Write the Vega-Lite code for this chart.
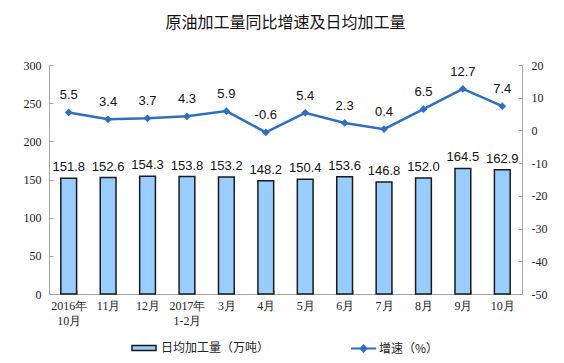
{
  "$schema": "https://vega.github.io/schema/vega-lite/v6.json",
  "width": 473,
  "height": 229,
  "autosize": {"type": "none"},
  "padding": {"left": 49, "top": 65, "right": 42, "bottom": 69},
  "background": "white",
  "title": {"text": "原油加工量同比增速及日均加工量", "font": "Noto Sans CJK SC", "fontSize": 16, "fontWeight": "normal", "color": "#111", "offset": 28},
  "config": {
    "locale": {"number": {"decimal": ".", "thousands": ",", "grouping": [3], "currency": ["$", ""], "minus": "-"}},
    "view": {"stroke": null},
    "axis": {"grid": false, "domainColor": "#a6a6a6", "tickColor": "#a6a6a6", "labelFont": "Liberation Serif", "labelFontSize": 12, "labelColor": "#222", "title": null}
  },
  "data": {"values": [
    {"cat": "2016年|10月", "amount": 151.8, "growth": 5.5},
    {"cat": "11月", "amount": 152.6, "growth": 3.4},
    {"cat": "12月", "amount": 154.3, "growth": 3.7},
    {"cat": "2017年|1-2月", "amount": 153.8, "growth": 4.3},
    {"cat": "3月", "amount": 153.2, "growth": 5.9},
    {"cat": "4月", "amount": 148.2, "growth": -0.6},
    {"cat": "5月", "amount": 150.4, "growth": 5.4},
    {"cat": "6月", "amount": 153.6, "growth": 2.3},
    {"cat": "7月", "amount": 146.8, "growth": 0.4},
    {"cat": "8月", "amount": 152.0, "growth": 6.5},
    {"cat": "9月", "amount": 164.5, "growth": 12.7},
    {"cat": "10月", "amount": 162.9, "growth": 7.4}
  ]},
  "encoding": {
    "x": {"field": "cat", "type": "nominal", "sort": null,
      "scale": {"paddingInner": 0.6, "paddingOuter": 0.3},
      "axis": {"labelAngle": 0, "labelExpr": "split(datum.label, '|')", "tickBand": "extent", "tickSize": -4, "labelPadding": 10, "labelLineHeight": 15, "labelBaseline": "top"}}
  },
  "layer": [
    {
      "encoding": {
        "y": {"field": "amount", "type": "quantitative", "scale": {"domain": [0, 300], "nice": false},
          "axis": {"orient": "left", "values": [0, 50, 100, 150, 200, 250, 300], "tickSize": -4, "labelPadding": 12}}
      },
      "layer": [
        {"mark": {"type": "bar", "stroke": "#1a1a1a", "strokeWidth": 1.5},
         "encoding": {"fill": {"datum": "日均加工量（万吨）", "type": "nominal", "scale": {"range": ["#99CCFF"]},
           "legend": {"orient": "none", "legendX": 82, "legendY": 270, "title": null, "padding": 0,
             "symbolType": "M-1,-0.2 h2 v0.4 h-2 Z", "symbolSize": 576, "symbolStrokeColor": "#1a1a1a", "symbolStrokeWidth": 1.5,
             "labelFont": "Noto Sans CJK SC", "labelFontSize": 12, "labelColor": "#222", "labelOffset": 4}}}},
        {"mark": {"type": "text", "baseline": "bottom", "dy": -4, "font": "Liberation Sans", "fontSize": 13, "color": "#111"},
         "encoding": {"text": {"field": "amount", "type": "quantitative", "format": ".1f"}}}
      ]
    },
    {
      "encoding": {
        "y": {"field": "growth", "type": "quantitative", "scale": {"domain": [-50, 20], "nice": false},
          "axis": {"orient": "right", "values": [-50, -40, -30, -20, -10, 0, 10, 20], "tickSize": -4, "labelPadding": 13}}
      },
      "layer": [
        {"mark": {"type": "line", "strokeWidth": 2.5},
         "encoding": {"stroke": {"datum": "增速（%）", "type": "nominal", "scale": {"range": ["#2E6FC2"]},
           "legend": {"orient": "none", "legendX": 301, "legendY": 270, "title": null, "padding": 0,
             "symbolType": "M-1,0 L1,0 M0,-0.24 L0.24,0 L0,0.24 L-0.24,0 Z", "symbolSize": 625, "symbolStrokeWidth": 2,
             "labelFont": "Noto Sans CJK SC", "labelFontSize": 12, "labelColor": "#222", "labelOffset": 2,
             "encode": {"symbols": {"update": {"fill": {"value": "#2E6FC2"}, "stroke": {"value": "#2E6FC2"}}}}}}}},
        {"mark": {"type": "point", "shape": "diamond", "filled": true, "size": 60, "color": "#2E6FC2", "opacity": 1}},
        {"mark": {"type": "text", "baseline": "bottom", "dy": -10, "font": "Liberation Sans", "fontSize": 13, "color": "#111"},
         "encoding": {"text": {"field": "growth", "type": "quantitative", "format": ".1f"}}}
      ]
    }
  ],
  "resolve": {"scale": {"y": "independent"}}
}
